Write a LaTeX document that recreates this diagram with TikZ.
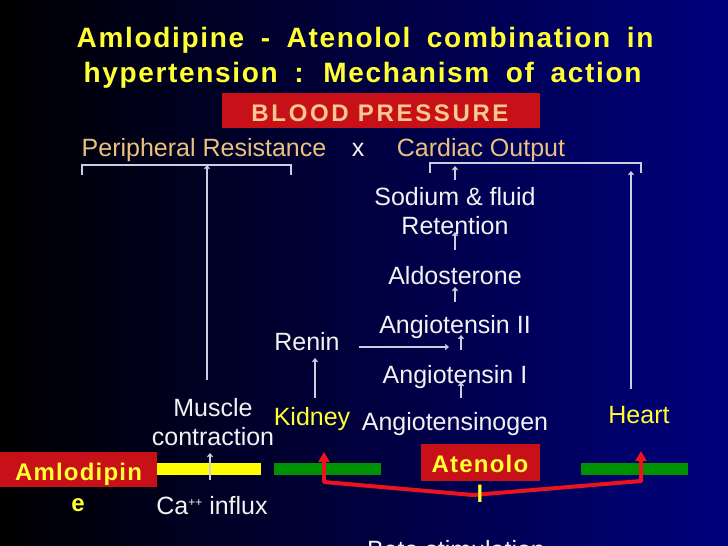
\documentclass[tikz,border=0pt]{standalone}
\usepackage{fontspec}
\setmainfont{Liberation Sans}
\newfontfamily\spaced[LetterSpace=6,WordSpace=1.75]{Liberation Sans}
\newfontfamily\bpfont[LetterSpace=11]{Liberation Sans}
\newfontfamily\tight[LetterSpace=5]{Liberation Sans}
\usetikzlibrary{arrows.meta}
\definecolor{bgmid}{RGB}{0,0,70}
\definecolor{bgblue}{RGB}{0,0,125}
\definecolor{ttl}{RGB}{255,255,51}
\definecolor{rescol}{RGB}{232,194,126}
\definecolor{peach}{RGB}{247,200,144}
\definecolor{boxred}{RGB}{200,16,24}
\definecolor{linered}{RGB}{235,20,30}
\definecolor{barylw}{RGB}{255,255,0}
\definecolor{bargrn}{RGB}{0,145,0}
\definecolor{arrc}{RGB}{205,205,225}
\definecolor{wtxt}{RGB}{242,242,242}

\begin{document}
\begin{tikzpicture}[x=1pt, y=-1pt,
          t/.style={font=\fontsize{25}{29}\selectfont, text=wtxt, inner sep=0pt, anchor=base},
          hd/.style={t, text=rescol},
          yl/.style={t, text=ttl},
          tt/.style={t, text=ttl, font=\spaced\bfseries\fontsize{28}{35}\selectfont},
          dr/.style={t, text=ttl, font=\tight\bfseries\fontsize{24}{29}\selectfont},
          ar/.style={draw=arrc, line width=1.2pt, -{Straight Barb[length=3pt,width=5pt]}},
          bk/.style={draw=arrc, line width=1.2pt},
          bar/.style={minimum width=107pt, minimum height=12pt, inner sep=0pt},
          rbox/.style={fill=boxred, inner sep=0pt},
          rl/.style={draw=linered, line width=4pt, line join=round,
            {Triangle[length=10pt,width=11pt]}-{Triangle[length=10pt,width=11pt]}}
        ]
        \useasboundingbox (0,0) rectangle (728,546);
        \clip (0,0) rectangle (728,546);
        \shade[left color=black, middle color=bgmid, right color=bgblue] (0,0) rectangle (728,546);

        \node[tt] (title1) at (365,47) {Amlodipine - Atenolol combination in};
        \node[tt] (title2) at (362.5,82) {hypertension : Mechanism of action};
        \node[rbox, minimum width=318pt, minimum height=35pt] (bpbox) at (381,110.5) {};
        \node[t, text=peach, font=\bpfont\bfseries\fontsize{24}{26}\selectfont] (bp) at (380,121) {BLOOD PRESSURE};

        \node[hd] (pres) at (204,156) {Peripheral Resistance};
        \node[t] (times) at (358,156) {x};
        \node[hd] (cout) at (481,156) {Cardiac Output};
        \coordinate (prl) at (82,165);
        \coordinate (prr) at (291,165);
        \coordinate (col) at (430,163);
        \coordinate (cor) at (641,163);
        \draw[bk] ([yshift=-10pt]prl) -- (prl) -- (prr) -- ([yshift=-10pt]prr);
        \draw[bk] ([yshift=-10pt]col) -- (col) -- (cor) -- ([yshift=-10pt]cor);

        \node[t] (sod1) at (455,205) {Sodium \& fluid};
        \node[t] (sod2) at (455,234) {Retention};
        \node[t] (aldo) at (455,284) {Aldosterone};
        \node[t] (ang2) at (455,333) {Angiotensin II};
        \node[t] (renin) at (307,350) {Renin};
        \node[t] (ang1) at (455,383) {Angiotensin I};
        \node[t] (agen) at (455,430) {Angiotensinogen};
        \node[yl] (kid) at (312,425) {Kidney};
        \node[yl] (heart) at (639,423) {Heart};
        \node[t] (musc1) at (213,416) {Muscle};
        \node[t] (musc2) at (213,445) {contraction};
        \node[t] (ca) at (212,514) {Ca\raisebox{8pt}{\fontsize{12}{12}\selectfont++} influx};
        \node[t] (beta) at (456,558) {Beta stimulation};

        \draw[ar, shorten >=3pt] ([yshift=7pt]sod1.north) -- (sod1.north |- col);
        \draw[ar] ([yshift=16pt]aldo.north) -- ([yshift=2pt]sod2.base);
        \draw[ar] ([yshift=13pt]ang2.north) -- ([yshift=-3pt]aldo.base);
        \draw[ar] ([shift={(6,-15)}]ang1.north) -- ([shift={(6,2)}]ang2.base);
        \draw[ar] ([shift={(6,-14)}]agen.north) -- ([shift={(6,-1)}]ang1.base);
        \draw[ar] ([shift={(19,-3)}]renin.base east) -- ([shift={(-6,14)}]ang2.base);
        \draw[ar] ([shift={(3,-9)}]kid.north) -- ([shift={(8,8)}]renin.base);
        \draw[ar] ([shift={(-6,-18)}]musc1.north) -- ([xshift=-6pt]musc1.north |- prl);
        \draw[ar, shorten >=8pt] ([shift={(-8,-17)}]heart.north) -- ([xshift=-8pt]heart.north |- col);

        \node[bar, fill=barylw] (ybar) at (207,469) {};
        \node[bar, fill=bargrn] (gbar1) at (327,469) {};
        \node[bar, fill=bargrn] (gbar2) at (634.5,469) {};
        \draw[ar] ([shift={(-2,-16)}]ca.north) -- ([shift={(-3,8)}]musc2.base);

        \coordinate (ktip) at (324,452);
        \coordinate (kbend) at (324,482);
        \coordinate (join) at (473,495);
        \coordinate (hbend) at (641,481);
        \coordinate (htip) at (641,451);
        \draw[rl] (ktip) -- (kbend) -- (join) -- (hbend) -- (htip);

        \node[rbox, minimum width=157pt, minimum height=35pt] (amlbox) at (78.5,469.5) {};
        \node[dr] (aml1) at (78.5,480) {Amlodipin};
        \node[dr] (aml2) at (78,511) {e};
        \node[rbox, minimum width=119pt, minimum height=37pt] (atebox) at (480.5,462.5) {};
        \node[dr] (ate1) at (480,472) {Atenolo};
        \node[dr] (ate2) at (480,502) {l};
      \end{tikzpicture}
\end{document}
